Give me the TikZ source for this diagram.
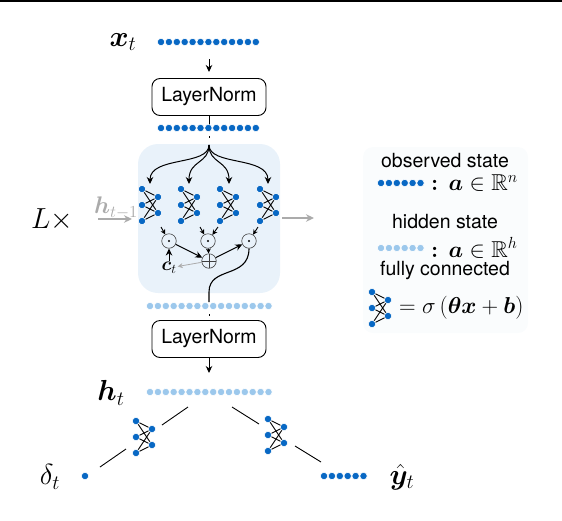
\documentclass[tikz,border=0pt]{standalone}
\usepackage{fix-cm}
\usepackage{amsmath,amssymb,bm}
\usepackage{fontspec}
\setsansfont{TeX Gyre Heros}
\usepackage{tikz}
\usetikzlibrary{arrows.meta,positioning,calc,fit}
\usepackage{xcolor}
\definecolor{obsblue}{HTML}{0868C4}
\definecolor{hidblue}{HTML}{9CC8EC}
\definecolor{panelblue}{HTML}{E9F2FA}
\definecolor{legendbg}{HTML}{FAFCFD}
\definecolor{skipgray}{HTML}{ABABAB}
% dotted row of neurons: name, colour, count
\newcommand{\dotrow}[3]{%
\foreach \i in {1,...,#3}{\node[neuron,fill=#2,xshift={(\i-1)*7.9pt}] (#1-\i) at (#1) {};}}
% small fully connected block
\newcommand{\fcnet}[2]{%
\begin{scope}[shift={(#2)}]
\node[neuron,fill=obsblue] (#1-l1) at (0,0) {};
\node[neuron,fill=obsblue] (#1-l2) at (0,16) {};
\node[neuron,fill=obsblue] (#1-l3) at (0,32) {};
\node[neuron,fill=obsblue] (#1-r1) at (16,8) {};
\node[neuron,fill=obsblue] (#1-r2) at (16,24) {};
\foreach \a in {l1,l2,l3}{\foreach \b in {r1,r2}{\draw[wire] (#1-\a) -- (#1-\b);}}
\end{scope}}
\begin{document}
\begin{tikzpicture}[x=1pt,y=-1pt,font=\sffamily,
neuron/.style={circle,draw=white,line width=.6pt,inner sep=0pt,minimum size=7.4pt},
wire/.style={line width=.9pt,black},
norm/.style={draw,rounded corners=8pt,line width=.9pt,minimum width=114pt,minimum height=37pt,inner sep=0pt,fill=white,font=\sffamily\fontsize{19.5}{23}\selectfont},
op/.style={circle,draw=black!75,line width=.6pt,minimum size=14.5pt,inner sep=0pt},
dotop/.style={op,path picture={\fill (path picture bounding box.center) circle (1.1pt);}},
sumop/.style={op,path picture={\draw[line width=.6pt,black!75] (path picture bounding box.north) -- (path picture bounding box.south) (path picture bounding box.west) -- (path picture bounding box.east);}},
arrow/.style={-{Stealth[length=7pt,width=6.5pt]},line width=1pt},
short/.style={-{Stealth[length=5pt,width=5pt]},line width=.9pt},
grayarrow/.style={-{Stealth[length=8pt,width=7.5pt]},line width=1.2pt,skipgray},
lbl/.style={font=\fontsize{29}{33}\selectfont},
txt/.style={font=\sffamily\fontsize{19.5}{23}\selectfont},
eqn/.style={font=\fontsize{23}{27}\selectfont,anchor=west,inner sep=0pt}]
\useasboundingbox (0,0) rectangle (562,520);
\fill (0,0) rectangle (562,2);
\fill[panelblue,rounded corners=20pt] (138,144) rectangle (280,293);
\fill[legendbg,rounded corners=10pt] (363,147) rectangle (528,333);

% rows
\coordinate (xrow) at (161,42);
\coordinate (normrow) at (161,128);
\coordinate (hidrow) at (150,306);
\coordinate (hrow) at (150,392);
\node[norm] (norm1) at (209,97) {LayerNorm};
\node[norm] (norm2) at (209,339) {LayerNorm};
\draw[line width=1pt] (norm1.south) -- (209,128);
\dotrow{xrow}{obsblue}{13}
\dotrow{normrow}{obsblue}{13}
\dotrow{hidrow}{hidblue}{16}
\dotrow{hrow}{hidblue}{16}

\coordinate (xout) at (209,59);
\coordinate (xin) at (209,72);
\draw[arrow] (xout) -- (xin);
\fill (208.5,136) rectangle (209.5,138);

% split
\coordinate (hub) at (209,145);
\coordinate (f1) at (150,184);
\coordinate (f2) at (189,184);
\coordinate (f3) at (229,184);
\coordinate (f4) at (268,184);
\draw[arrow] (hub) .. controls (209,166) and (150,156) .. (f1);
\draw[arrow] (hub) .. controls (209,164) and (189,160) .. (f2);
\draw[arrow] (hub) .. controls (209,164) and (229,160) .. (f3);
\draw[arrow] (hub) .. controls (209,166) and (268,156) .. (f4);
\fcnet{neta}{142,189}
\fcnet{netb}{181,189}
\fcnet{netc}{220,189}
\fcnet{netd}{260,189}

% gating ops
\node[dotop] (op1) at (169,241) {};
\node[dotop] (op2) at (208,241) {};
\node[dotop] (op3) at (249,241) {};
\node[sumop] (sum) at (209,261) {};
\node[font=\fontsize{19}{21}\selectfont,inner sep=1pt] (ct) at (169,268) {$\bm{c}_t$};
\coordinate (a1) at (161,227);
\coordinate (a2) at (200,227);
\coordinate (a3) at (218,227);
\coordinate (a4) at (258,227);
\draw[short] (a1) -- (op1);
\draw[short] (a2) -- (op2);
\draw[short] (a3) -- (op2);
\draw[short] (a4) -- (op3);
\draw[short] (op2) -- (sum);
\draw[arrow] (op1) -- (sum);
\draw[arrow] (sum) -- (op3);
\draw[arrow] (ct) -- (op1);
\draw[skipgray,line width=.8pt,-{Stealth[length=5pt,width=5pt]}] (sum) -- (ct);
\coordinate (hidtop) at (209,302);
\draw[line width=1.1pt] (hidtop) -- (209,292) .. controls (209,266) and (249,279) .. (op3);
\fill (208.5,314) rectangle (209.5,316);

% recurrent in and out
\node[text=skipgray,font=\fontsize{24}{26}\selectfont] (hprev) at (116,208) {$\bm{h}_{t-1}$};
\coordinate (recin) at (98,219);
\coordinate (recend) at (132,219);
\coordinate (recout) at (282,218);
\coordinate (recoutend) at (314,218);
\draw[grayarrow] (recin) -- (recend);
\draw[grayarrow] (recout) -- (recoutend);

% bottom
\coordinate (normout) at (209,373);
\draw[arrow] (norm2.south) -- (normout);
\fcnet{nete}{136,421}
\fcnet{netf}{268,419}
\coordinate (lta) at (188,407);
\coordinate (ltb) at (162,425);
\coordinate (lba) at (126,449);
\coordinate (lbb) at (100,467);
\coordinate (rta) at (232,407);
\coordinate (rtb) at (259,424);
\coordinate (rba) at (295,446);
\coordinate (rbb) at (321,462);
\draw[wire] (lta) -- (ltb);
\draw[wire] (lba) -- (lbb);
\draw[wire] (rta) -- (rtb);
\draw[wire] (rba) -- (rbb);
\coordinate (drow) at (85,476);
\coordinate (yrow) at (324,476);
\dotrow{drow}{obsblue}{1}
\dotrow{yrow}{obsblue}{6}

% labels
\node[lbl] (xt) at (123,42) {$\bm{x}_t$};
\node[lbl] (Lx) at (52,220) {$L\times$};
\node[lbl] (ht) at (111,393) {$\bm{h}_t$};
\node[lbl] (dt) at (50,477) {$\delta_t$};
\node[lbl] (yt) at (402,477) {$\hat{\bm{y}}_t$};

% legend
\node[txt] (obs) at (445,161) {observed state};
\coordinate (obsrow) at (381,183);
\dotrow{obsrow}{obsblue}{6}
\node[eqn] (obseq) at (431,183) {$\bm{:}\,\bm{a}\in\mathbb{R}^n$};
\node[txt] (hid) at (445,222) {hidden state};
\coordinate (hidleg) at (381,248);
\dotrow{hidleg}{hidblue}{6}
\node[eqn] (hideq) at (431,248) {$\bm{:}\,\bm{a}\in\mathbb{R}^h$};
\node[txt] (fc) at (445,270) {fully connected};
\fcnet{netg}{372,292}
\node[eqn] (fceq) at (399,308) {$=\sigma\left(\bm{\theta x}+\bm{b}\right)$};
\end{tikzpicture}
\end{document}
